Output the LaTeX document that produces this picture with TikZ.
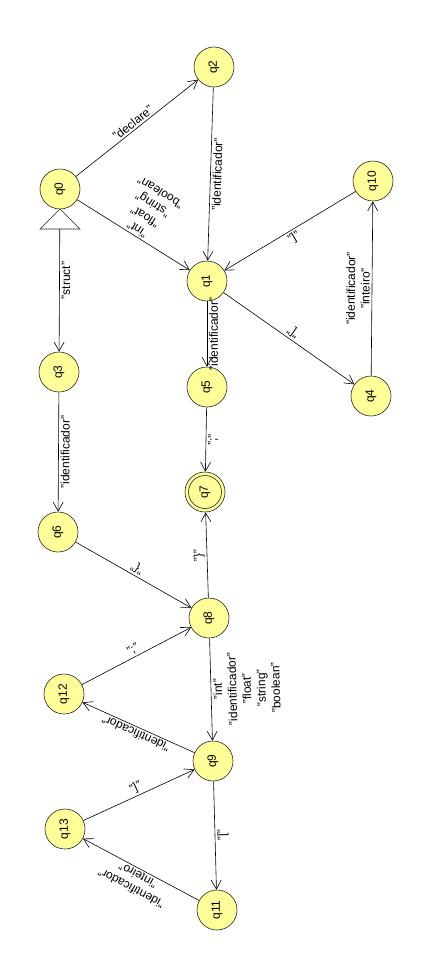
\documentclass[tikz,border=0pt]{standalone}
\usepackage{fontspec}
\setmainfont{Liberation Sans}
\usetikzlibrary{arrows.meta}

\definecolor{statefill}{RGB}{255,255,153}

\begin{document}
\begin{tikzpicture}[x=1pt, y=-1pt, % pixel grid, y runs down
	> = {Straight Barb[length=9pt,width=10pt]}, % open arrow head
	semithick, % line style
	every node/.style={font=\fontsize{12}{14.5}\selectfont},
	state/.style={circle, draw=black!85, fill=statefill, minimum size=40pt, inner sep=0pt, rotate=90},
	lbl/.style={inner sep=2pt, align=center, sloped, allow upside down}]
	\useasboundingbox[fill=white] (0,0) rectangle (433,969);

	\node[state] (q0) at (60,189)   {q0};
	\node[state] (q2) at (214,67)   {q2};
	\node[state] (q1) at (207,281)  {q1};
	\node[state] (q10) at (373,181) {q10};
	\node[state] (q3) at (59,372)   {q3};
	\node[state] (q5) at (207,387)  {q5};
	\node[state] (q4) at (371,396)  {q4};
	\node[state] (q7) at (205,492)  {q7};
	\node[state] (q6) at (58,532)   {q6};
	\node[state] (q8) at (209,618)  {q8};
	\node[state] (q12) at (64,694)  {q12};
	\node[state] (q9) at (213,761)  {q9};
	\node[state] (q13) at (65,829)  {q13};
	\node[state] (q11) at (217,910) {q11};
	\draw[black!85] (q7) circle[radius=16.5pt]; % final state

	\draw[->] (q0) -- node[lbl, above] {"declare"} (q2);
	\draw[<-] (q1) -- node[lbl, below] {"int"\\"float"\\"string"\\"boolean"} (q0);
	\draw[<-] (q1) -- node[lbl, below] {"identificador"} (q2);
	\draw[<-] (q1) -- node[lbl, below] {"]"} (q10);
	\draw[<-] (q4) -- node[lbl, below] {"["} (q1);
	\draw[->] (q4) -- node[lbl, above] {"identificador"\\"inteiro"} (q10);
	\draw[<-] (q5) -- node[lbl, below] {"identificador"} (q1);
	\draw[<-] (q7) -- node[lbl, below] {";"} (q5);

	\draw[<-] (q3) -- node[lbl, below] {"struct"} (q0);
	\draw[<-] (q6) -- node[lbl, below] {"identificador"} (q3);
	\draw[<-] (q8) -- node[lbl, below] {"\{"} (q6);
	\draw[->] (q8) -- node[lbl, above] {"\}"} (q7);
	\draw[->] (q12) -- node[lbl, above] {";"} (q8);
	\draw[<-] (q9) -- node[lbl, below] {"int"\\"identificador"\\"float"\\"string"\\"boolean"} (q8);
	\draw[->] (q9) -- node[lbl, above] {"identificador"} (q12);
	\draw[->] (q13) -- node[lbl, above] {"]"} (q9);
	\draw[<-] (q11) -- node[lbl, below] {"["} (q9);
	\draw[->] (q11) -- node[lbl, above] {"identificador"\\"inteiro"} (q13);

	% start marker
	\draw[black!85, fill=white] (q0.center) ++(0,20) -- ++(-20,20) -- ++(40,0) -- cycle;

\end{tikzpicture}
\end{document}
